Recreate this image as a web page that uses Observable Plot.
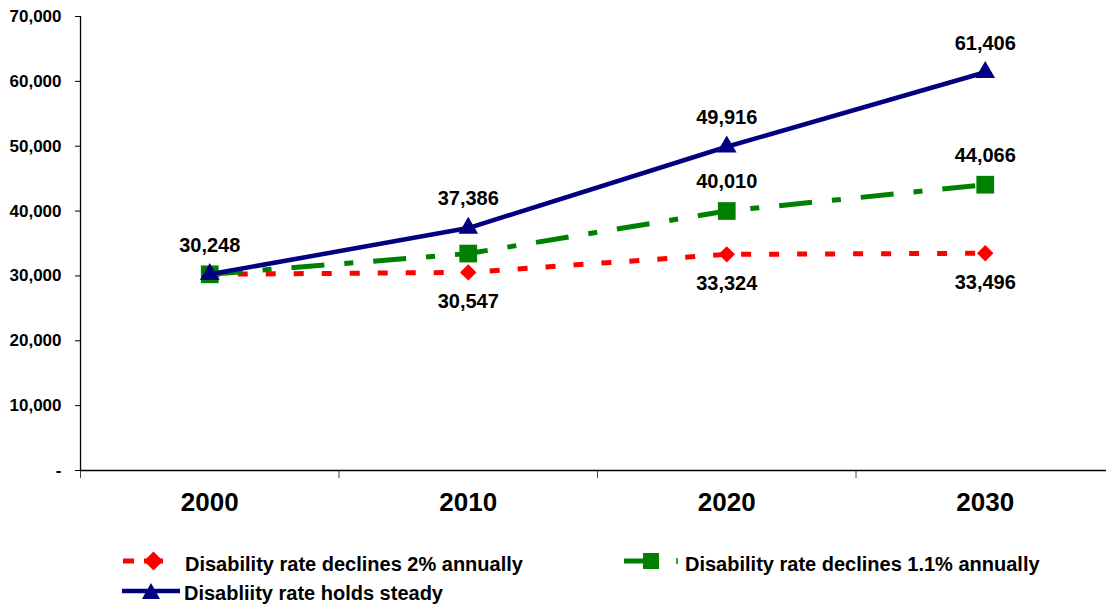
<!DOCTYPE html>
<html><head><meta charset="utf-8">
<script src="https://cdn.jsdelivr.net/npm/d3@7"></script>
<script src="https://cdn.jsdelivr.net/npm/@observablehq/plot@0.6"></script>
<style>
body{margin:0;background:#fff;font-family:"Liberation Sans",Arial,sans-serif;}
#wrap{position:relative;width:1106px;height:607px;overflow:hidden;background:#fff}
.leg{position:absolute;font-weight:bold;font-size:20px;line-height:1;white-space:nowrap;color:#000}
.sym{position:absolute;left:0;top:0}
</style></head><body><div id="wrap"></div>
<script>
// ---- data ----
const years = [2000, 2010, 2020, 2030];
const seriesNames = ["Disability rate declines 2% annually", "Disability rate declines 1.1% annually", "Disabliity rate holds steady"];
const redValues = [30248, 30547, 33324, 33496];
const greenValues = [30248, 33450, 40010, 44066];
const blueValues = [30248, 37386, 49916, 61406];
const yTicks = [0, 10000, 20000, 30000, 40000, 50000, 60000, 70000];
const xBoundaries = [1995, 2005, 2015, 2025];
const redLabelYears = [2010, 2020, 2030];
const greenLabelYears = [2020, 2030];
const blueLabelYears = [2000, 2010, 2020, 2030];

const mk = (vals) => years.map((y, i) => ({year: y, value: vals[i]}));
const red = mk(redValues), green = mk(greenValues), blue = mk(blueValues);
const fmt = d3.format(",");

const chart = Plot.plot({
  width: 1106,
  height: 545,
  marginLeft: 80,
  marginRight: 0,
  marginTop: 16,
  marginBottom: 75,
  style: {fontFamily: "'Liberation Sans', Arial, sans-serif", fontWeight: "bold", color: "#000", background: "#fff", overflow: "hidden"},
  x: {domain: [1995, 2035], range: [80, 1114], axis: null},
  y: {domain: [0, 70000], axis: null},
  marks: [
    Plot.axisY({ticks: yTicks, tickSize: 5, tickPadding: 14, fontSize: 17, fontWeight: "bold",
      tickFormat: d => d === 0 ? "-" : fmt(d), label: null, stroke: "#000"}),
    Plot.axisX({ticks: xBoundaries, tickSize: 8, tickFormat: () => "", label: null, stroke: "#444"}),
    Plot.ruleX([1995], {stroke: "#000", strokeWidth: 1.3}),
    Plot.ruleY([0], {stroke: "#000", strokeWidth: 1.3}),
    Plot.text(years, {x: d => d, frameAnchor: "bottom", dy: 40, text: d => String(d), fontSize: 26, fontWeight: "bold", fill: "#000"}),
    // red series
    Plot.line(red, {x: "year", y: "value", stroke: "#FF0000", strokeWidth: 5, strokeDasharray: "10,18", strokeLinecap: "butt"}),
    Plot.dot(red, {x: "year", y: "value", symbol: "diamond2", r: 7.4, fill: "#FF0000", stroke: "none"}),
    // green series
    Plot.line(green, {x: "year", y: "value", stroke: "#008000", strokeWidth: 5, strokeDasharray: "33,20,9,20", strokeLinecap: "butt"}),
    Plot.dot(green, {x: "year", y: "value", symbol: "square", r: 10, fill: "#008000", stroke: "none"}),
    // blue series
    Plot.line(blue, {x: "year", y: "value", stroke: "#000080", strokeWidth: 4.5}),
    Plot.dot(blue, {x: "year", y: "value", symbol: "triangle", r: 7.3, fill: "#000080", stroke: "none"}),
    // labels
    Plot.text(red.filter(d => redLabelYears.includes(d.year)), {x: "year", y: "value", text: d => fmt(d.value), dy: 29, fontSize: 20, fontWeight: "bold", fill: "#000"}),
    Plot.text(green.filter(d => greenLabelYears.includes(d.year)), {x: "year", y: "value", text: d => fmt(d.value), dy: -29, fontSize: 20, fontWeight: "bold", fill: "#000"}),
    Plot.text(blue.filter(d => blueLabelYears.includes(d.year)), {x: "year", y: "value", text: d => fmt(d.value), dy: -29, fontSize: 20, fontWeight: "bold", fill: "#000"})
  ]
});

const wrap = document.getElementById("wrap");
wrap.appendChild(chart);

// ---- legend ----
const ns = "http://www.w3.org/2000/svg";
const lsvg = document.createElementNS(ns, "svg");
lsvg.setAttribute("width", 1106); lsvg.setAttribute("height", 607);
lsvg.setAttribute("class", "sym");
lsvg.innerHTML = `
  <line x1="123" y1="561" x2="134" y2="561" stroke="#FF0000" stroke-width="5"/>
  <line x1="144" y1="561" x2="163" y2="561" stroke="#FF0000" stroke-width="5"/>
  <path d="M153.5,551.5 L163,561 L153.5,570.5 L144,561 Z" fill="#FF0000"/>
  <line x1="624" y1="561" x2="648" y2="561" stroke="#008000" stroke-width="5"/>
  <rect x="643" y="553" width="16" height="16" fill="#008000"/>
  <line x1="677" y1="558" x2="677" y2="564" stroke="#008000" stroke-width="1.5"/>
  <line x1="122" y1="591" x2="180" y2="591" stroke="#000080" stroke-width="4.5"/>
  <path d="M151,583 L160,599 L142,599 Z" fill="#000080"/>
`;
lsvg.style.position = "absolute";
wrap.appendChild(lsvg);

const legendItems = [
  {name: seriesNames[0], left: 185, top: 554},
  {name: seriesNames[1], left: 685, top: 554},
  {name: seriesNames[2], left: 184, top: 583}
];
legendItems.forEach(it => {
  const d = document.createElement("div");
  d.className = "leg";
  d.style.left = it.left + "px";
  d.style.top = it.top + "px";
  d.textContent = it.name;
  wrap.appendChild(d);
});
</script>
</body></html>
